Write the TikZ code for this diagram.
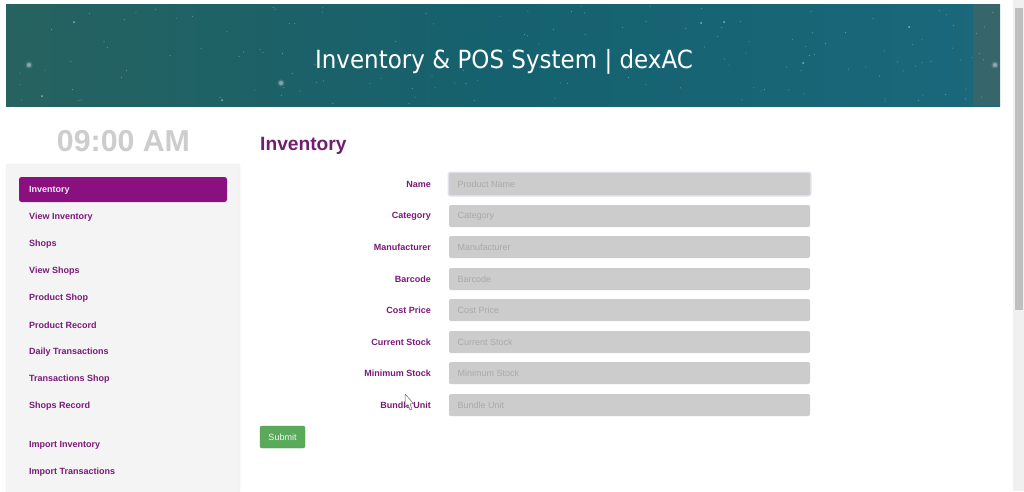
\documentclass[tikz,border=0pt]{standalone}
\usepackage{fontspec}
\setmainfont{Liberation Sans}
\newfontfamily\bannerfont[FakeStretch=0.92]{DejaVu Sans}
\usepackage{xcolor}
\usetikzlibrary{calc}
\definecolor{plum}{HTML}{7A1A78}
\definecolor{activeplum}{HTML}{8A1080}
\definecolor{headplum}{HTML}{6F1F6E}
\definecolor{panel}{HTML}{F4F4F5}
\definecolor{fieldgray}{HTML}{CCCCCC}
\definecolor{holder}{HTML}{A9A9A9}
\definecolor{clockgray}{HTML}{CDCDCD}
\definecolor{okgreen}{HTML}{5BAA5B}
\definecolor{bannerleft}{HTML}{26625F}
\definecolor{bannermid}{HTML}{15616F}
\definecolor{bannerright}{HTML}{1A687B}
\definecolor{stripgray}{HTML}{4A6360}
\tikzset{
  x=1pt, y=-1pt,
  menuitem/.style={anchor=west, inner sep=0pt, text=plum, font=\bfseries\fontsize{9}{10}\selectfont},
  formlabel/.style={anchor=east, inner sep=0pt, text=plum, font=\bfseries\fontsize{9}{10}\selectfont},
  holdertext/.style={anchor=west, inner sep=0pt, text=holder, font=\fontsize{9}{10}\selectfont},
  fieldbox/.style={fill=fieldgray, draw=none, rounded corners=2pt},
  star/.style={fill=white, opacity=0.4},
}

\begin{document}
\begin{tikzpicture}
\useasboundingbox (0,0) rectangle (1024,491);
\fill[white] (0,0) rectangle (1024,491);

% banner
\shade[left color=bannerleft, right color=bannerright, middle color=bannermid, shading angle=90] (6,4) rectangle (1000,106);
\fill[stripgray, opacity=0.6] (973,4) rectangle (1000,106);
\pgfmathsetseed{417}
\foreach \i in {1,...,150}{
  \pgfmathsetmacro{\sx}{8+rnd*990}
  \pgfmathsetmacro{\sy}{6+rnd*98}
  \fill[star] (\sx,\sy) circle (0.5);
}
\foreach \gx/\gy in {29/65, 281/83, 995/65}{
  \fill[white, opacity=0.15] (\gx,\gy) circle (3.6);
  \fill[white, opacity=0.35] (\gx,\gy) circle (2);
}
\foreach \gx/\gy in {74/22, 42/96, 222/100, 701/23, 724/22, 803/63, 909/27}{
  \fill[white, opacity=0.5] (\gx,\gy) circle (1);
}
\node[text=white, inner sep=0pt, font=\bannerfont\fontsize{25}{28}\selectfont] (title) at (504,62) {Inventory \& POS System | dexAC};

% clock and heading
\node[text=clockgray, inner sep=0pt, font=\bfseries\fontsize{30.3}{34}\selectfont] (clock) at (123.5,141.5) {09:00 AM};
\node[anchor=west, inner sep=0pt, text=headplum, font=\bfseries\fontsize{19.2}{24}\selectfont] (heading) at (260,145.5) {Inventory};

% side menu
\path[fill=panel, draw=black!8, rounded corners=2pt] (6,164) -- (240,164) -- (240,495) -- (6,495) -- cycle;
\fill[activeplum, rounded corners=2.5pt] (19,177) rectangle (227,202);
\node[menuitem, text=white!92!plum] (inventory) at (29,190) {Inventory};
\foreach \name/\ypos/\lab in {viewinv/217/View Inventory, shops/244/Shops, viewshops/271/View Shops,
  prodshop/298/Product Shop, prodrec/325/Product Record, daily/352/Daily Transactions,
  transhop/379/Transactions Shop, shoprec/406/Shops Record, impinv/445/Import Inventory,
  imptrans/472/Import Transactions}{
  \node[menuitem] (\name) at (29,\ypos) {\lab};
}

% form
\fill[blue!30!gray, opacity=0.18, rounded corners=3pt] (447.5,171.5) rectangle (811.5,196.5);
\foreach \name/\ytop/\lab/\hold in {name/173/Name/Product Name, category/205/Category/Category,
  maker/236/Manufacturer/Manufacturer, barcode/268/Barcode/Barcode, cost/299/Cost Price/Cost Price,
  current/331/Current Stock/Current Stock, minimum/362/Minimum Stock/Minimum Stock, bundle/394/Bundle Unit/Bundle Unit}{
  \fill[fieldbox] (449,\ytop) rectangle (810,\ytop+22);
  \node[formlabel] (\name label) at (431,\ytop+11.5) {\lab};
  \node[holdertext] (\name field) at (457.5,\ytop+11.5) {\hold};
}

% submit button
\node[fill=okgreen, draw=okgreen!90!black, rounded corners=2pt, minimum width=45, minimum height=22, inner sep=0pt,
  text=white!90!okgreen, font=\fontsize{9}{10}\selectfont] (submit) at (282.5,437) {Submit};

% mouse pointer
\draw[black!60, fill=white, line width=0.5pt, line join=round] (405,394) -- (405,407) -- (408,404.5) -- (410,410) -- (412,409) -- (410,404) -- (413.5,403.5) -- cycle;

% scrollbar
\fill[black!6] (1013,0) rectangle (1024,491);
\fill[black!25] (1015,8) rectangle (1023,310);
\end{tikzpicture}
\end{document}
